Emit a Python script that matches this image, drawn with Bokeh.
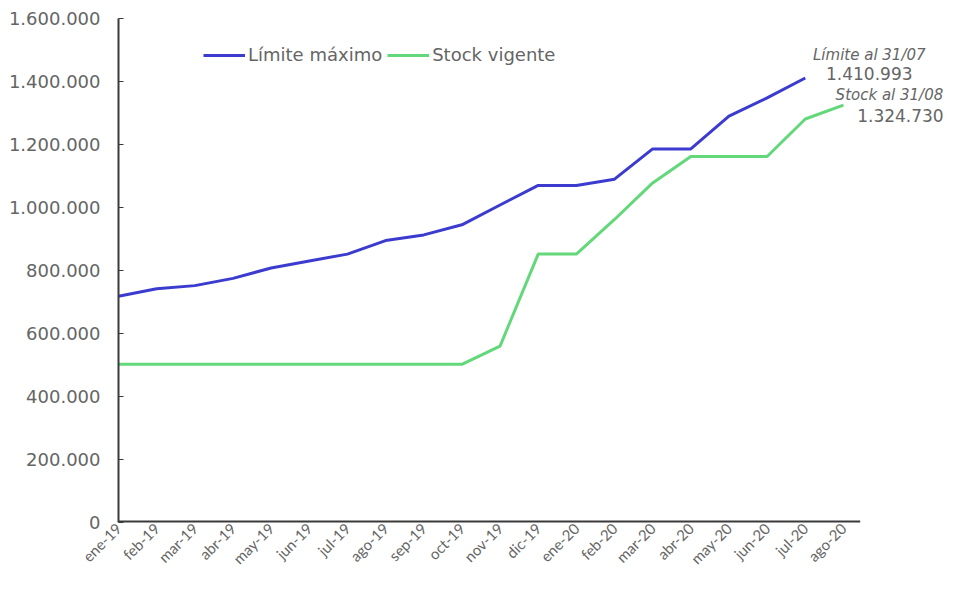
import math
from bokeh.plotting import figure
from bokeh.models import (Range1d, FixedTicker, CustomJSTickFormatter, Legend, LegendItem, Label)
from bokeh.embed import file_html
from bokeh.resources import INLINE

months = ["ene-19", "feb-19", "mar-19", "abr-19", "may-19", "jun-19", "jul-19", "ago-19",
          "sep-19", "oct-19", "nov-19", "dic-19", "ene-20", "feb-20", "mar-20", "abr-20",
          "may-20", "jun-20", "jul-20", "ago-20"]

limite_maximo = [718000, 742000, 752000, 775000, 808000, 830000, 852000, 895000,
                 913000, 945000, 1008000, 1070000, 1070000, 1090000, 1186000, 1186000,
                 1290000, 1348000, 1410993]

stock_vigente = [502000, 502000, 502000, 502000, 502000, 502000, 502000, 502000,
                 502000, 502000, 560000, 852000, 852000, 962000, 1078000, 1162000,
                 1162000, 1162000, 1281000, 1324730]

y_ticks = [0, 200000, 400000, 600000, 800000, 1000000, 1200000, 1400000, 1600000]

FONT = "DejaVu Sans"
XFONT = "Lato"
GRAY = "#656565"
AXIS = "#3a3a3a"
BLUE = "#3b3bd0"
GREEN = "#63d87b"

p = figure(width=949, height=576, output_backend="svg", toolbar_location=None,
           x_range=Range1d(0, 21.78), y_range=Range1d(0, 1600000),
           min_border_left=118, min_border_right=0, min_border_top=18, min_border_bottom=40)
p.outline_line_color = None
p.xgrid.visible = False
p.ygrid.visible = False

# x axis baseline (ends just after the last month, as in the reference)
axis_end = len(months) - 1 + 0.44
p.segment(x0=[p.x_range.start], y0=[0], x1=[axis_end], y1=[0], line_color=AXIS, line_width=4)

xs_l = list(range(len(limite_maximo)))
xs_s = list(range(len(stock_vigente)))
r1 = p.line(xs_l, limite_maximo, line_color=BLUE, line_width=3)
r2 = p.line(xs_s, stock_vigente, line_color=GREEN, line_width=3)

# y axis
ya = p.yaxis[0]
ya.ticker = FixedTicker(ticks=y_ticks)
ya.formatter = CustomJSTickFormatter(code="return Math.round(tick).toString().replace(/\\B(?=(\\d{3})+(?!\\d))/g, '.');")
ya.axis_line_color = AXIS
ya.axis_line_width = 2
ya.major_tick_in = 5
ya.major_tick_out = 0
ya.minor_tick_in = 0
ya.minor_tick_out = 0
ya.major_tick_line_color = AXIS
ya.minor_tick_line_color = None
ya.major_label_text_font = FONT
ya.major_label_text_font_size = "18px"
ya.major_label_text_color = GRAY
ya.major_label_standoff = 18

# x axis
xa = p.xaxis[0]
xa.ticker = FixedTicker(ticks=list(range(len(months))))
xa.major_label_overrides = {i: m for i, m in enumerate(months)}
xa.major_label_orientation = math.pi / 4
xa.axis_line_color = None
xa.major_tick_line_color = None
xa.minor_tick_line_color = None
xa.major_tick_in = 0
xa.major_tick_out = 0
xa.minor_tick_in = 0
xa.minor_tick_out = 0
xa.axis_label_standoff = 0
xa.major_label_text_font = XFONT
xa.major_label_text_font_size = "15px"
xa.major_label_text_color = GRAY
xa.major_label_standoff = 3

legend = Legend(items=[LegendItem(label="Límite máximo", renderers=[r1]),
                       LegendItem(label="Stock vigente", renderers=[r2])],
                orientation="horizontal", location=(85, 457),
                padding=0, margin=0, spacing=5,
                glyph_width=42, glyph_height=20, label_height=20, label_standoff=3,
                label_text_font=FONT, label_text_font_size="18px", label_text_color=GRAY,
                border_line_color=None, background_fill_alpha=0)
p.add_layout(legend, "center")

def fmt(v):
    return f"{v:,}".replace(",", ".")

li = len(limite_maximo) - 1
si = len(stock_vigente) - 1
p.add_layout(Label(x=li, y=limite_maximo[li], x_offset=64, y_offset=23, text="Límite al 31/07",
                   text_align="center", text_baseline="middle", text_font=FONT,
                   text_font_style="italic", text_font_size="15px", text_color=GRAY))
p.add_layout(Label(x=li, y=limite_maximo[li], x_offset=64, y_offset=5, text=fmt(limite_maximo[li]),
                   text_align="center", text_baseline="middle", text_font=FONT,
                   text_font_size="17px", text_color=GRAY))
p.add_layout(Label(x=si, y=stock_vigente[si], x_offset=46, y_offset=10, text="Stock al 31/08",
                   text_align="center", text_baseline="middle", text_font=FONT,
                   text_font_style="italic", text_font_size="15px", text_color=GRAY))
p.add_layout(Label(x=si, y=stock_vigente[si], x_offset=57, y_offset=-10, text=fmt(stock_vigente[si]),
                   text_align="center", text_baseline="middle", text_font=FONT,
                   text_font_size="17px", text_color=GRAY))

open("out.html", "w").write(file_html(p, INLINE))
